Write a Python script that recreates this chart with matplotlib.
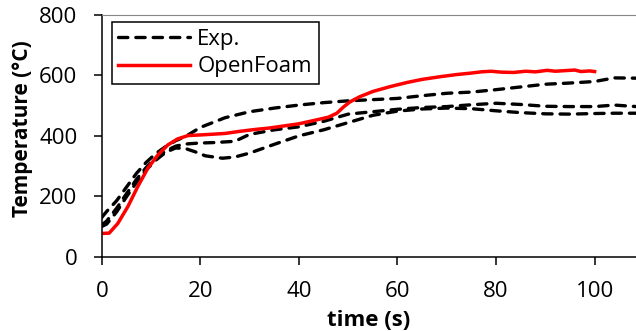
import matplotlib
matplotlib.use("Agg")
import matplotlib.pyplot as plt

plt.rcParams['font.family'] = ['Open Sans', 'DejaVu Sans']

# experimental curves (three thermocouple runs, all labelled "Exp.")
exp1_t = [0, 1, 3, 5, 7, 9, 11, 13, 15, 17, 20, 25, 30, 35, 40, 45, 50, 55, 60, 65,
          70, 75, 80, 85, 90, 95, 100, 104, 108.5]
exp1_T = [130, 150, 185, 230, 275, 312, 342, 365, 384, 398, 428, 460, 480, 492, 502, 510, 516, 520, 524, 533,
          541, 545, 553, 562, 571, 575, 580, 592, 591]

exp2_t = [0, 1, 3, 5, 7, 9, 11, 13, 15, 17, 19.5, 23, 27, 30, 35, 40, 45, 50, 55, 60,
          65, 70, 75, 80, 85, 90, 95, 100, 104, 108.5]
exp2_T = [105, 118, 160, 208, 255, 295, 327, 350, 366, 373, 376, 378, 382, 405, 420, 430, 448, 472, 480, 488,
          494, 497, 503, 508, 504, 498, 497, 497, 502, 497]

exp3_t = [0, 1, 3, 5, 7, 9, 11, 13, 15, 17, 19, 21, 24.5, 27, 30, 35, 40, 45, 50, 55,
          60, 65, 70, 75, 80, 85, 90, 95, 100, 104, 108.5]
exp3_T = [100, 108, 148, 198, 245, 287, 320, 346, 360, 358, 347, 334, 326, 330, 343, 372, 400, 420, 444, 468,
          482, 489, 492, 490, 483, 477, 473, 472, 474, 475, 475]

# OpenFoam simulation
sim_t = [0, 1.5, 3.25, 5.3, 7.3, 9.35, 11.4, 13.4, 15.4, 17.5, 19.9, 22, 25, 28, 31, 34, 37, 40, 43.6, 46,
         47.7, 49, 50.4, 52.4, 55, 58.5, 62, 65, 68.7, 72, 75, 77, 79, 81, 83.6, 86, 88, 90.4, 92, 94,
         96, 97.2, 99, 100]
sim_T = [77, 78, 110, 166, 232, 293, 337, 370, 390, 401, 403, 405, 408, 415, 421, 426, 433, 440, 453, 462,
         475, 495, 513, 530, 547, 563, 577, 587, 596, 603, 608, 612, 614, 611, 610, 614, 612, 617, 614, 616,
         618, 613, 615, 613]

fig = plt.figure(figsize=(6.36, 3.31), dpi=100)
ax = fig.add_axes([0.160, 0.2245, 0.840, 0.730])

dash = dict(color='black', lw=2.4, dashes=(2.8, 2.4), dash_capstyle='round')
ax.plot(exp1_t, exp1_T, label='Exp.', **dash)
ax.plot(exp2_t, exp2_T, **dash)
ax.plot(exp3_t, exp3_T, **dash)
ax.plot(sim_t, sim_T, color='#ff0000', lw=2.5, label='OpenFoam')

ax.set_xlim(0, 108.4)
ax.set_ylim(0, 800)
ax.set_xticks([0, 20, 40, 60, 80, 100])
ax.set_yticks([0, 200, 400, 600, 800])
ax.tick_params(direction='out', length=5.5, width=1.1, labelsize=16, colors='black')
ax.tick_params(axis='y', pad=12)
ax.tick_params(axis='x', pad=12)

ax.spines['right'].set_visible(False)
ax.spines['top'].set_color('#888888')
ax.spines['top'].set_linewidth(0.8)
ax.spines['left'].set_linewidth(1.1)
ax.spines['bottom'].set_linewidth(1.1)

ax.set_xlabel('time (s)', fontsize=16, fontweight='bold', labelpad=6)
ax.set_ylabel('Temperature (°C)', fontsize=15, fontweight='bold')
ax.yaxis.set_label_coords(-0.129, 0.53)

leg = ax.legend(loc='upper left', bbox_to_anchor=(0.0187, 0.971), borderaxespad=0,
                fontsize=16, fancybox=False, framealpha=1, edgecolor='black',
                handlelength=3.2, handletextpad=0.35, borderpad=0.3, labelspacing=0.3)
leg.get_frame().set_linewidth(1.1)

fig.savefig('out.png', dpi=100)
